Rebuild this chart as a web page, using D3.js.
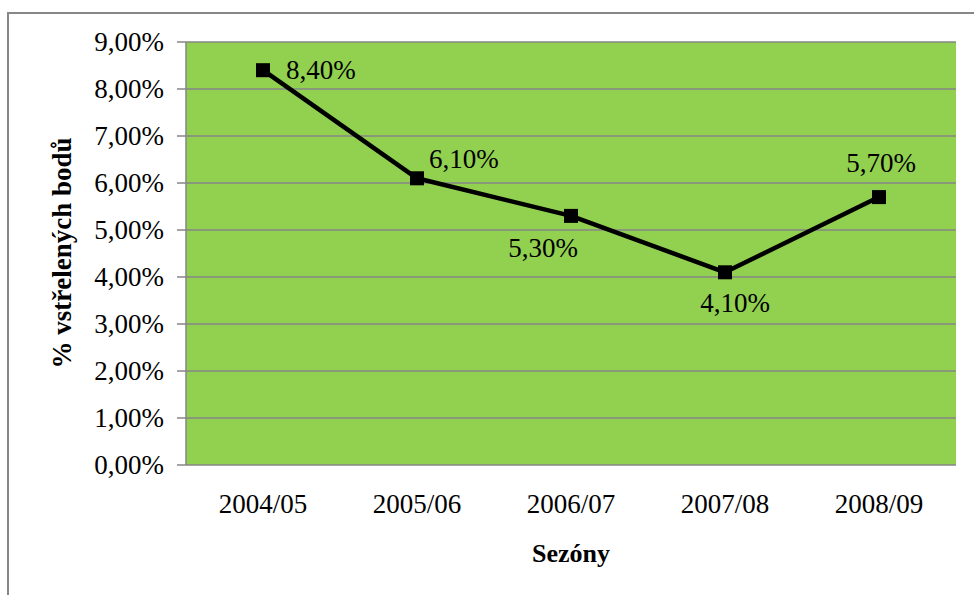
<!DOCTYPE html>
<html><head><meta charset="utf-8">
<script src="https://cdn.jsdelivr.net/npm/d3@7"></script>
<style>body{margin:0;background:#fff}svg{display:block}</style>
</head><body>
<svg id="c" width="974" height="595"></svg>
<script>
const categories = ["2004/05","2005/06","2006/07","2007/08","2008/09"];
const values = [8.4, 6.1, 5.3, 4.1, 5.7];
const valueLabels = ["8,40%","6,10%","5,30%","4,10%","5,70%"];
const yTicks = [0,1,2,3,4,5,6,7,8,9];
const yTitle = "% vstřelených bodů";
const xTitle = "Sezóny";

const svg = d3.select("#c");
const font = "'Times New Roman','Liberation Serif',serif";
const pLeft = 186, pRight = 956, pTop = 42, pBottom = 465;
const fs = 27;

svg.append("rect").attr("x",8).attr("y",13).attr("width",980).attr("height",600)
  .attr("fill","none").attr("stroke","#878787").attr("stroke-width",2);

const x = d3.scaleBand().domain(categories).range([pLeft,pRight]);
const y = d3.scaleLinear().domain([0,9]).range([pBottom,pTop]);

svg.append("rect").attr("x",pLeft).attr("y",pTop).attr("width",pRight-pLeft).attr("height",pBottom-pTop).attr("fill","#92D050");

// gridlines
svg.append("g").selectAll("line").data(yTicks).join("line")
  .attr("x1",pLeft-9).attr("x2",pRight).attr("y1",d=>y(d)).attr("y2",d=>y(d))
  .attr("stroke","#868686").attr("stroke-width",1.5);
svg.append("line").attr("x1",pLeft).attr("x2",pLeft).attr("y1",pTop).attr("y2",pBottom).attr("stroke","#868686").attr("stroke-width",1.5);

// y labels
svg.append("g").selectAll("text").data(yTicks).join("text")
  .attr("x",164).attr("y",d=>y(d)+8.5).attr("text-anchor","end")
  .attr("font-family",font).attr("font-size",fs).attr("fill","#000")
  .text(d=>d3.format(".2f")(d).replace(".",",")+"%");

// x labels
svg.append("g").selectAll("text").data(categories).join("text")
  .attr("x",d=>x(d)+x.bandwidth()/2).attr("y",513).attr("text-anchor","middle")
  .attr("font-family",font).attr("font-size",fs).attr("fill","#000").text(d=>d);

// titles
svg.append("text").attr("x",571).attr("y",562).attr("text-anchor","middle")
  .attr("font-family",font).attr("font-size",26).attr("font-weight","bold").text(xTitle);
svg.append("text").attr("transform","translate(71,253) rotate(-90)").attr("text-anchor","middle")
  .attr("font-family",font).attr("font-size",27).attr("font-weight","bold").text(yTitle);

const cx = (d,i)=>x(categories[i])+x.bandwidth()/2;
const line = d3.line().x((d,i)=>cx(d,i)).y(d=>y(d));
svg.append("path").datum(values).attr("d",line).attr("fill","none").attr("stroke","#000").attr("stroke-width",4.5).attr("stroke-linejoin","round");

svg.append("g").selectAll("rect").data(values).join("rect")
  .attr("x",(d,i)=>cx(d,i)-7).attr("y",d=>y(d)-7).attr("width",14).attr("height",14).attr("fill","#000");

// data labels: offsets (dx, baseline dy, anchor) relative to point
const offs = [[23,9,"start"],[12,-10,"start"],[-28,41,"middle"],[10,40,"middle"],[2,-25,"middle"]];
svg.append("g").selectAll("text").data(values).join("text")
  .attr("x",(d,i)=>cx(d,i)+offs[i][0]).attr("y",(d,i)=>y(d)+offs[i][1])
  .attr("text-anchor",(d,i)=>offs[i][2])
  .attr("font-family",font).attr("font-size",fs).attr("fill","#000")
  .text((d,i)=>valueLabels[i]);
</script>
</body></html>
